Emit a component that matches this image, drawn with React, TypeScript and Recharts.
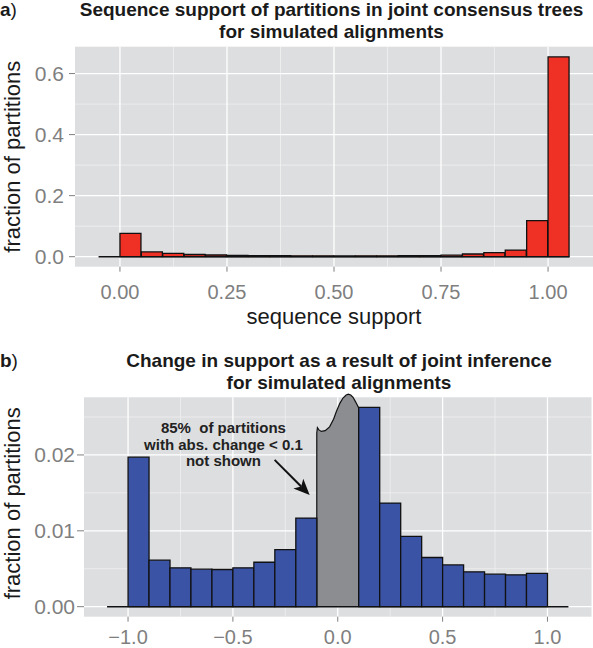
import React from "react";
import {
  Area,
  Bar,
  CartesianGrid,
  ComposedChart,
  ReferenceDot,
  ReferenceLine,
  XAxis,
  YAxis,
} from "recharts";

const FONT = "'Liberation Sans', Arial, Helvetica, sans-serif";
const PANEL_BG = "#dddee0";
const TICK_GREY = "#7f7f7f";
const INK = "#1a1a1a";

// a) sequence support, bins of 0.05 (centres)
const supportBins = [
  -0.025, 0.025, 0.075, 0.125, 0.175, 0.225, 0.275, 0.325, 0.375, 0.425, 0.475,
  0.525, 0.575, 0.625, 0.675, 0.725, 0.775, 0.825, 0.875, 0.925, 0.975, 1.025,
];
const supportFraction = [
  0, 0.0766, 0.0155, 0.011, 0.0072, 0.0055, 0.0042, 0.0036, 0.0031, 0.0028, 0.0027,
  0.0026, 0.0027, 0.0029, 0.0031, 0.0036, 0.0048, 0.0088, 0.0132, 0.0218, 0.118, 0.6545,
];
const supportSpan = [-0.05, 1.05];
const supportTicksX = [0, 0.25, 0.5, 0.75, 1];
const supportMinorX = [0.125, 0.375, 0.625, 0.875];
const supportTicksY = [0, 0.2, 0.4, 0.6];
const supportMinorY = [0.1, 0.3, 0.5];

// b) change in support, bins of 0.1 (centres); |change| < 0.1 not shown
const changeBins = [
  -1.05, -0.95, -0.85, -0.75, -0.65, -0.55, -0.45, -0.35, -0.25, -0.15, -0.05,
  0.05, 0.15, 0.25, 0.35, 0.45, 0.55, 0.65, 0.75, 0.85, 0.95, 1.05,
];
const changeFraction = [
  0, 0.0197, 0.00613, 0.00512, 0.00495, 0.0049, 0.00512, 0.00586, 0.00753, 0.01168, null,
  null, 0.02626, 0.01365, 0.00928, 0.00648, 0.00551, 0.0046, 0.00429, 0.0042, 0.00438, 0,
];
const changeSpan = [-1.1, 1.1];
const changeTicksX = [-1, -0.5, 0, 0.5, 1];
const changeMinorX = [-0.75, -0.25, 0.25, 0.75];
const changeTicksY = [0, 0.01, 0.02];
const changeMinorY = [0.005, 0.015, 0.025];

// grey "not shown" block with its wavy top (pokes out of the panel)
const hiddenX = [-0.1, -0.1, -0.097, -0.09, -0.078, -0.06, -0.039, -0.02, -0.007, 0.01, 0.025, 0.04, 0.05, 0.062, 0.073, 0.085, 0.1, 0.1];
const hiddenY = [0, 0.0229, 0.0236, 0.0233, 0.0231, 0.0232, 0.0237, 0.0247, 0.0257, 0.0268, 0.0275, 0.0279, 0.028, 0.0279, 0.0276, 0.027, 0.0262, 0];

const noteLines = ["85%  of partitions", "with abs. change < 0.1", "not shown"];
const notePos = { x: -0.545, y: 0.02066 };
const arrowFrom = { x: -0.301, y: 0.01935 };
const arrowTo = { x: -0.134, y: 0.01473 };

const supportRows = supportBins.map((x, i) => ({ x, y: supportFraction[i] }));
const changeRows = changeBins.map((x, i) => ({ x, y: changeFraction[i] }));
const hiddenRows = hiddenX.map((x, i) => ({ x, y: hiddenY[i] }));

// panel b: the grey panel stops at PANEL_MAX_B, the plot area reaches PLOT_MAX_B
const Y_MIN_B = -0.00132;
const PANEL_MAX_B = 0.0276;
const PLOT_MAX_B = 0.02856;
const B_TOP = 50;
const B_PLOT_H = 226.7;
const bPanelTop = B_TOP + ((PLOT_MAX_B - PANEL_MAX_B) / (PLOT_MAX_B - Y_MIN_B)) * B_PLOT_H;
const bPanelH = B_TOP + B_PLOT_H - bPanelTop;

const minus = (s: string) => s.replace("-", "\u2212");

function yTitle(text: string) {
  return (props: any) => {
    const vb = props.viewBox || { x: 0, y: 0, width: 0, height: 0 };
    const cx = 20;
    const cy = vb.y + vb.height / 2;
    return (
      <text x={cx} y={cy} transform={`rotate(-90 ${cx} ${cy})`} textAnchor="middle" fontSize={22} fill={INK}>
        {text}
      </text>
    );
  };
}

function ArrowShape(p: any) {
  const { x1, y1, x2, y2 } = p;
  const ang = Math.atan2(y2 - y1, x2 - x1);
  const c = Math.cos(ang);
  const s = Math.sin(ang);
  const len = 16;
  const half = 7;
  const bx = x2 - len * c;
  const by = y2 - len * s;
  return (
    <g>
      <line x1={x1} y1={y1} x2={bx + 4 * c} y2={by + 4 * s} stroke="#111" strokeWidth={2} />
      <polygon
        points={`${x2},${y2} ${bx - s * half},${by + c * half} ${bx + 4 * c},${by + 4 * s} ${bx + s * half},${by - c * half}`}
        fill="#111"
      />
    </g>
  );
}

function NoteShape(p: any) {
  const { cx, cy } = p;
  return (
    <text x={cx} y={cy} textAnchor="middle" fontSize={15} fontWeight="bold" fill="#222" style={{ whiteSpace: "pre" }}>
      {noteLines.map((l, i) => (
        <tspan key={i} x={cx} dy={i === 0 ? -16.5 : 16.5}>
          {l}
        </tspan>
      ))}
    </text>
  );
}

const titleStyle: React.CSSProperties = {
  position: "absolute",
  fontSize: 19,
  lineHeight: "19px",
  fontWeight: "bold",
  textAlign: "center",
  color: INK,
  whiteSpace: "nowrap",
};

export default function App() {
  return (
    <div style={{ position: "absolute", left: 0, top: 0, width: 593, height: 648, background: "#fff", fontFamily: FONT, overflow: "hidden" }}>
      <div style={{ ...titleStyle, left: 0, top: 0, textAlign: "left" }}>
        a<span style={{ fontWeight: "normal" }}>)</span>
      </div>
      <div style={{ ...titleStyle, left: 70, top: 0, width: 523 }}>Sequence support of partitions in joint consensus trees</div>
      <div style={{ ...titleStyle, left: 70, top: 22, width: 523 }}>for simulated alignments</div>

      <div style={{ position: "absolute", left: 0, top: 0 }}>
        <ComposedChart width={593} height={330} data={supportRows} margin={{ top: 46.7, right: 0, bottom: 0, left: 0 }} barCategoryGap={0} barGap={0}>
          <CartesianGrid fill={PANEL_BG} stroke="#f3f3f3" strokeWidth={0.7} verticalValues={supportMinorX} horizontalValues={supportMinorY} />
          <CartesianGrid stroke="#ffffff" strokeWidth={1.3} verticalValues={supportTicksX} horizontalValues={supportTicksY} />
          <XAxis
            dataKey="x"
            type="number"
            domain={[-0.105, 1.105]}
            allowDataOverflow
            ticks={supportTicksX}
            interval={0}
            height={63.3}
            axisLine={false}
            tickSize={5}
            tickMargin={13}
            tickLine={{ stroke: TICK_GREY }}
            tick={{ fill: TICK_GREY, fontSize: 20 }}
            tickFormatter={(v: number) => v.toFixed(2)}
            label={{ value: "sequence support", position: "insideBottom", offset: 6.5, fill: INK, fontSize: 22 }}
          />
          <YAxis
            type="number"
            domain={[-0.0328, 0.688]}
            allowDataOverflow
            ticks={supportTicksY}
            interval={0}
            width={75}
            axisLine={false}
            tickSize={6}
            tickMargin={5}
            tickLine={{ stroke: TICK_GREY }}
            tick={{ fill: TICK_GREY, fontSize: 21 }}
            tickFormatter={(v: number) => v.toFixed(1)}
            label={{ content: yTitle("fraction of partitions") }}
          />
          <Bar dataKey="y" fill="#ee3124" stroke="#111" strokeWidth={1.3} isAnimationActive={false} />
          <ReferenceLine segment={[{ x: supportSpan[0], y: 0 }, { x: supportSpan[1], y: 0 }]} stroke="#111" strokeWidth={1.4} />
        </ComposedChart>
      </div>

      <div style={{ ...titleStyle, left: 0, top: 351, textAlign: "left" }}>
        b<span style={{ fontWeight: "normal" }}>)</span>
      </div>
      <div style={{ ...titleStyle, left: 85, top: 351, width: 508 }}>Change in support as a result of joint inference</div>
      <div style={{ ...titleStyle, left: 85, top: 373, width: 508 }}>for simulated alignments</div>

      <div style={{ position: "absolute", left: 0, top: 340 }}>
        <ComposedChart width={593} height={308} data={changeRows} margin={{ top: B_TOP, right: 1.5, bottom: 0, left: 0 }} barCategoryGap={0} barGap={0}>
          <CartesianGrid
            y={bPanelTop}
            height={bPanelH}
            fill={PANEL_BG}
            stroke="#f3f3f3"
            strokeWidth={0.7}
            verticalValues={changeMinorX}
            horizontalValues={changeMinorY}
          />
          <CartesianGrid
            y={bPanelTop}
            height={bPanelH}
            stroke="#ffffff"
            strokeWidth={1.3}
            verticalValues={changeTicksX}
            horizontalValues={changeTicksY}
          />
          <XAxis
            dataKey="x"
            type="number"
            domain={[-1.21, 1.21]}
            allowDataOverflow
            ticks={changeTicksX}
            interval={0}
            height={31.3}
            axisLine={false}
            tickSize={5}
            tickMargin={8}
            tickLine={{ stroke: TICK_GREY }}
            tick={{ fill: TICK_GREY, fontSize: 20 }}
            tickFormatter={(v: number) => minus(v.toFixed(1))}
          />
          <XAxis xAxisId="curve" dataKey="x" type="number" domain={[-1.21, 1.21]} allowDataOverflow hide />
          <YAxis
            type="number"
            domain={[Y_MIN_B, PLOT_MAX_B]}
            allowDataOverflow
            ticks={changeTicksY}
            interval={0}
            width={84}
            axisLine={false}
            tickSize={7}
            tickMargin={2}
            tickLine={{ stroke: TICK_GREY }}
            tick={{ fill: TICK_GREY, fontSize: 21 }}
            tickFormatter={(v: number) => v.toFixed(2)}
            label={{ content: yTitle("fraction of partitions") }}
          />
          <Area
            xAxisId="curve"
            data={hiddenRows}
            dataKey="y"
            type="linear"
            fill="#8b8d90"
            fillOpacity={1}
            stroke="#111"
            strokeWidth={1.2}
            isAnimationActive={false}
          />
          <Bar dataKey="y" fill="#3a53a4" stroke="#111" strokeWidth={1.3} isAnimationActive={false} />
          <ReferenceLine segment={[{ x: changeSpan[0], y: 0 }, { x: changeSpan[1], y: 0 }]} stroke="#111" strokeWidth={1.4} />
          <ReferenceLine segment={[arrowFrom, arrowTo]} shape={ArrowShape} />
          <ReferenceDot x={notePos.x} y={notePos.y} r={0} shape={NoteShape} />
        </ComposedChart>
      </div>
    </div>
  );
}
